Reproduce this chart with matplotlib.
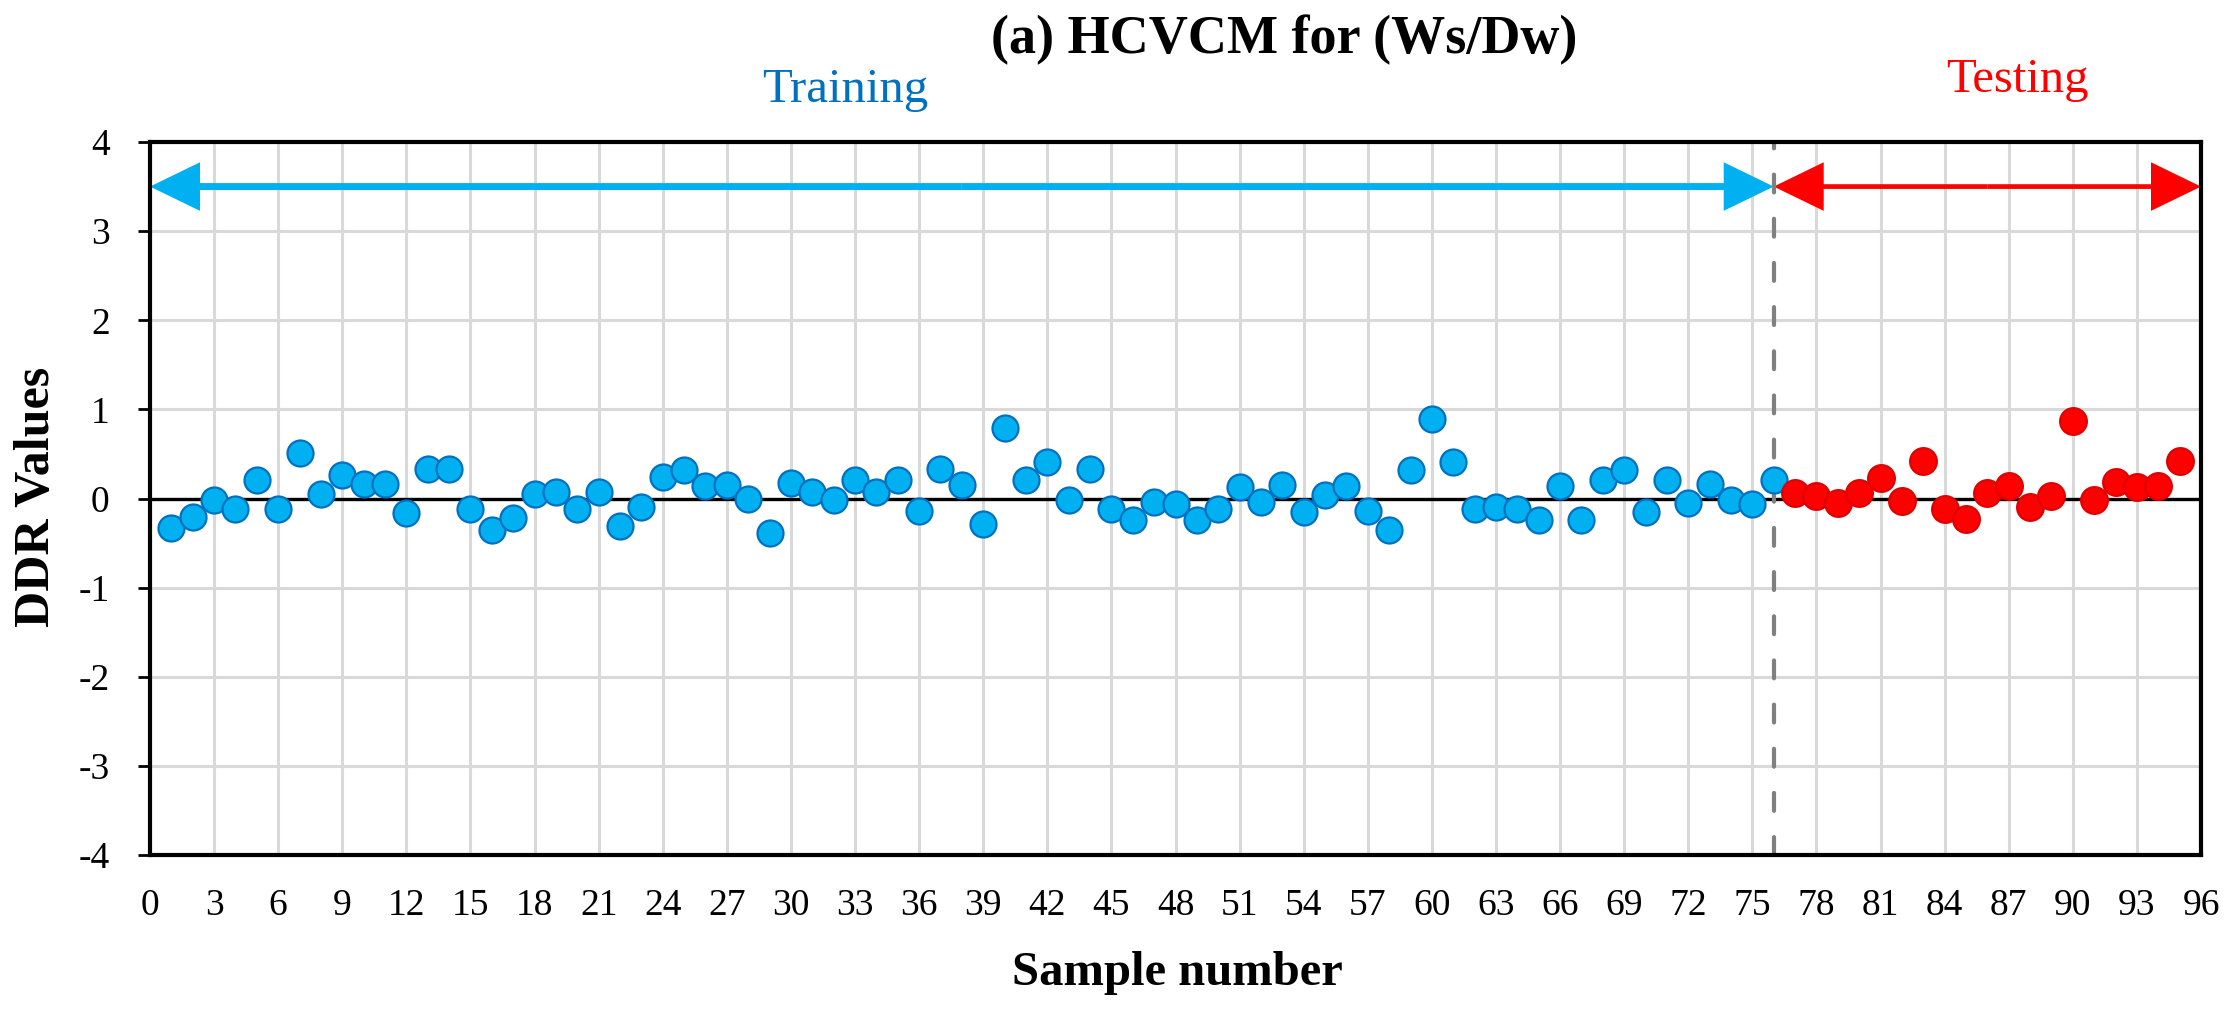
import matplotlib
matplotlib.use("Agg")
import matplotlib.pyplot as plt
from matplotlib.patches import FancyArrowPatch, ArrowStyle
import numpy as np

# ---------------- data ----------------
train_samples = list(range(1, 77))
train_values = [-0.33, -0.21, -0.02, -0.12, 0.21, -0.12, 0.51, 0.05, 0.26, 0.16,
                0.16, -0.16, 0.33, 0.33, -0.12, -0.35, -0.22, 0.05, 0.07, -0.12,
                0.07, -0.31, -0.09, 0.24, 0.32, 0.145, 0.15, 0.0, -0.39, 0.17,
                0.07, -0.02, 0.21, 0.07, 0.21, -0.145, 0.33, 0.15, -0.29, 0.79,
                0.21, 0.41, -0.02, 0.33, -0.12, -0.24, -0.04, -0.06, -0.24, -0.12,
                0.13, -0.04, 0.15, -0.15, 0.04, 0.14, -0.145, -0.35, 0.32, 0.89,
                0.41, -0.12, -0.10, -0.12, -0.24, 0.14, -0.245, 0.21, 0.32, -0.15,
                0.21, -0.045, 0.16, -0.02, -0.06, 0.21]
test_samples = list(range(77, 96))
test_values = [0.063, 0.026, -0.048, 0.06, 0.23, -0.033, 0.42, -0.115, -0.23, 0.063,
               0.145, -0.09, 0.026, 0.87, -0.015, 0.18, 0.126, 0.14, 0.42]

x_ticks = list(range(0, 97, 3))
y_ticks = list(range(-4, 5))
train_range = (0, 76)
test_range = (76, 96)
split_x = 76
arrow_y = 3.5

title = "(a) HCVCM for (Ws/Dw)"
xlabel = "Sample number"
ylabel = "DDR Values"

# ---------------- figure ----------------
W, H, DPI = 2237, 1011, 100
plt.rcParams['font.family'] = ['Liberation Serif', 'DejaVu Serif']
plt.rcParams['axes.unicode_minus'] = False
fig = plt.figure(figsize=(W / DPI, H / DPI), dpi=DPI)
L, R, T, B = 150, 2201, 142, 855
ax = fig.add_axes([L / W, 1 - B / H, (R - L) / W, (B - T) / H])

ax.set_xlim(0, 96)
ax.set_ylim(-4, 4)
ax.set_xticks(x_ticks)
ax.set_yticks(y_ticks)
ax.grid(True, color='#D9D9D9', lw=2.2, zorder=0)
ax.set_axisbelow(True)

ax.tick_params(axis='x', length=0, pad=24, labelsize=27)
ax.tick_params(axis='y', length=9, width=2, pad=20, labelsize=27, direction='out')
for s in ax.spines.values():
    s.set_linewidth(3)
    s.set_color('black')
    s.set_zorder(10)

ax.axhline(0, color='black', lw=2.4, zorder=1)

# arrows (two filled heads each, drawn from the middle outwards)
def double_arrow(x0, x1, y, color, tail):
    mid = (x0 + x1) / 2
    style = ArrowStyle.Simple(head_length=36, head_width=35, tail_width=tail)
    for end in (x0, x1):
        p = FancyArrowPatch((mid, y), (end, y), arrowstyle=style, mutation_scale=1,
                            color=color, lw=0, shrinkA=0, shrinkB=0, zorder=2,
                            clip_on=False)
        ax.add_patch(p)

double_arrow(train_range[0], train_range[1], arrow_y, '#00B0F0', 5)
double_arrow(test_range[0], test_range[1], arrow_y, '#FF0000', 3.4)

ax.axvline(split_x, color='#808080', lw=3, linestyle=(0, (4.3, 6.3)),
           dash_capstyle='round', zorder=3)

ax.scatter(train_samples, train_values, s=350, color='#00B0F0',
           edgecolors='#0070C0', linewidths=1.6, zorder=5)
ax.scatter(test_samples, test_values, s=370, color='#FF0000',
           edgecolors='#E00000', linewidths=1.6, zorder=5)

# texts
fig.text(1284 / W, 1 - 53 / H, title, ha='center', va='baseline',
         fontsize=39, fontweight='bold')
fig.text(845 / W, 1 - 102 / H, "Training", ha='center', va='baseline',
         fontsize=35, color='#0070C0')
fig.text(2017 / W, 1 - 92 / H, "Testing", ha='center', va='baseline',
         fontsize=35, color='#FF0000')
fig.text(1177 / W, 1 - 985 / H, xlabel, ha='center', va='baseline',
         fontsize=35, fontweight='bold')
fig.text(37 / W, 1 - 497 / H, ylabel, ha='center', va='center', rotation=90,
         fontsize=36, fontweight='bold')

fig.savefig("out.png", dpi=DPI)
